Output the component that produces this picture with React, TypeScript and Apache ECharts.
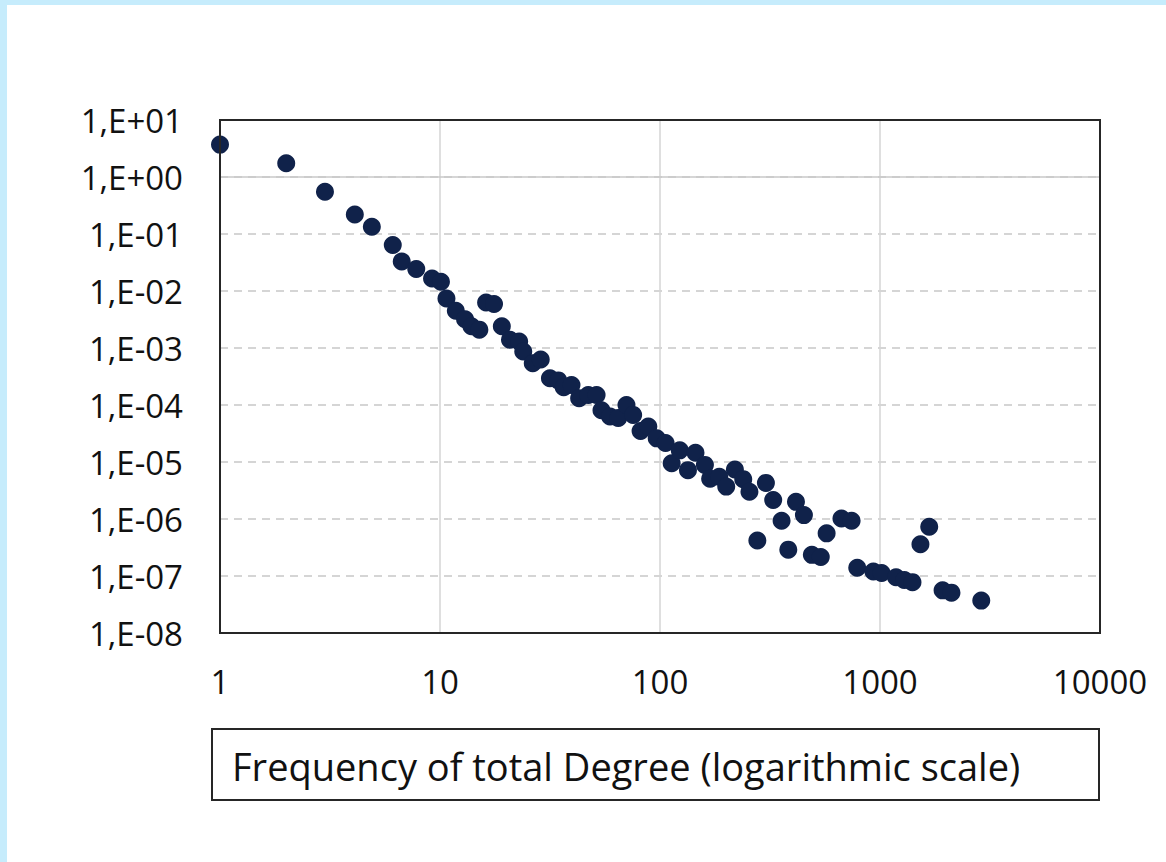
import React, { useRef, useEffect } from 'react'
import * as echarts from 'echarts'

// total degree (x) and its frequency (y)
const degrees = [
  1, 2, 3, 4.1, 4.9, 6.1, 6.7, 7.8, 9.2, 10.1, 10.7, 11.8, 13, 13.9, 15.1, 16.2, 17.6, 19.1,
  20.8, 22.9, 23.9, 26.4, 28.7, 31.6, 34.5, 36.5, 39.6, 42.9, 47.2, 51.5, 54.2, 59.3, 64.6,
  70.4, 75.5, 81.6, 88.5, 96.6, 106, 113, 123, 134, 145, 160, 169, 186, 200, 219, 239, 255,
  277, 303, 327, 357, 383, 415, 451, 490, 538, 572, 668, 743, 788, 933, 1017, 1183, 1290,
  1405, 1527, 1674, 1925, 2113, 2886,
]
const frequencies = [
  3.7, 1.74, 0.55, 0.22, 0.134, 0.064, 0.033, 0.0243, 0.0166, 0.0145, 0.0074, 0.0045, 0.0032,
  0.0024, 0.0021, 0.0063, 0.0059, 0.0024, 0.0014, 0.0013, 0.00087, 0.00054, 0.00063, 0.000295,
  0.00027, 0.000205, 0.000224, 0.000131, 0.00015, 0.00015, 8.1e-5, 6.3e-5, 5.9e-5, 1e-4,
  6.7e-5, 3.5e-5, 4.2e-5, 2.6e-5, 2.15e-5, 9.5e-6, 1.6e-5, 7.2e-6, 1.45e-5, 8.9e-6, 5.1e-6,
  5.5e-6, 3.7e-6, 7.4e-6, 5e-6, 3.0e-6, 4.2e-7, 4.3e-6, 2.15e-6, 9.3e-7, 2.9e-7, 2.0e-6,
  1.17e-6, 2.35e-7, 2.15e-7, 5.6e-7, 1.02e-6, 9.3e-7, 1.4e-7, 1.2e-7, 1.13e-7, 9.5e-8, 8.5e-8,
  7.8e-8, 3.6e-7, 7.3e-7, 5.6e-8, 5.1e-8, 3.7e-8,
]
const xTickLabels = ['1', '10', '100', '1000', '10000']
const titleText = 'Frequency of total Degree (logarithmic scale)'

const FONT = '"Open Sans", sans-serif'

const yLabel = (v: number) => {
  const e = Math.round(Math.log10(v))
  const sign = e < 0 ? '-' : '+'
  return `1,E${sign}${String(Math.abs(e)).padStart(2, '0')}`
}

const App: React.FC = () => {
  const chartRef = useRef<HTMLDivElement>(null)

  useEffect(() => {
    if (!chartRef.current) return
    const chart = echarts.init(chartRef.current, null, { renderer: 'svg' })

    const option = {
      animation: false,
      backgroundColor: '#ffffff',
      textStyle: { fontFamily: FONT },
      grid: { left: 220, top: 120, width: 880, height: 513 },
      xAxis: {
        type: 'log',
        logBase: 10,
        min: 1,
        max: 10000,
        splitNumber: 4,
        axisLine: { show: false },
        axisTick: { show: false },
        axisLabel: {
          fontSize: 33,
          color: '#111',
          fontFamily: FONT,
          margin: 32,
          formatter: (v: number) => xTickLabels[Math.round(Math.log10(v))] ?? '',
        },
        splitLine: { show: true, lineStyle: { color: '#d4d4d4', width: 1.5, type: 'solid' } },
      },
      yAxis: {
        type: 'log',
        logBase: 10,
        min: 1e-8,
        max: 10,
        splitNumber: 9,
        axisLine: { show: false },
        axisTick: { show: false },
        axisLabel: {
          fontSize: 33,
          color: '#111',
          fontFamily: FONT,
          margin: 37,
          formatter: yLabel,
        },
        splitLine: {
          show: true,
          lineStyle: { color: '#c8c8c8', width: 1.5, type: [8, 6] },
        },
      },
      series: [
        {
          type: 'scatter',
          data: degrees.map((d, i) => [d, frequencies[i]]),
          symbol: 'circle',
          symbolSize: 18,
          itemStyle: { color: '#10224a', opacity: 1 },
          markLine: {
            silent: true,
            symbol: 'none',
            label: { show: false },
            lineStyle: { color: '#c8c8c8', width: 1.5, type: 'solid' },
            data: [{ yAxis: 1 }],
          },
        },
      ],
      graphic: [
        { type: 'rect', shape: { x: 0, y: 0, width: 1166, height: 5 }, style: { fill: '#c6ecfc' } },
        { type: 'rect', shape: { x: 0, y: 0, width: 7, height: 862 }, style: { fill: '#c6ecfc' } },
        // plot frame, drawn over the grid lines
        {
          type: 'rect',
          z: 100,
          shape: { x: 220, y: 120, width: 880, height: 513 },
          style: { fill: 'none', stroke: '#262626', lineWidth: 2 },
        },
        {
          type: 'rect',
          shape: { x: 212, y: 729, width: 887, height: 71 },
          style: { fill: '#ffffff', stroke: '#262626', lineWidth: 2 },
        },
        {
          type: 'text',
          x: 232,
          y: 766,
          style: {
            text: titleText,
            fontFamily: FONT,
            fontSize: 38,
            fill: '#111',
            verticalAlign: 'middle',
            align: 'left',
          },
        },
      ],
    }

    chart.setOption(option)
    return () => chart.dispose()
  }, [])

  return (
    <div
      ref={chartRef}
      style={{ position: 'fixed', left: 0, top: 0, width: 1166, height: 862 }}
    />
  )
}

export default App
